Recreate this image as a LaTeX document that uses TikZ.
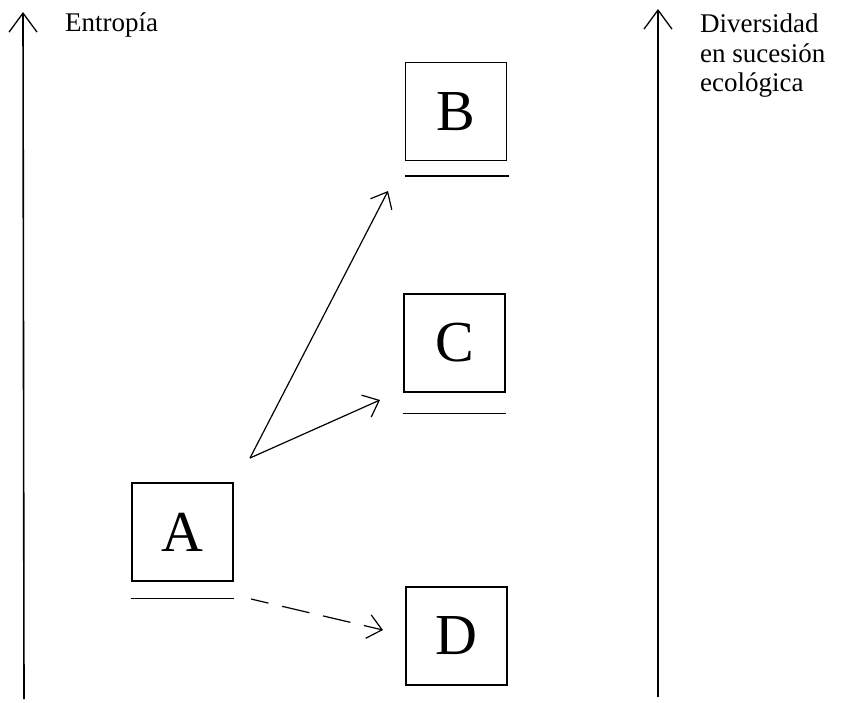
\documentclass[tikz,border=0pt]{standalone}
\usepackage{fontspec}
\setmainfont{Liberation Serif}
\usetikzlibrary{arrows.meta}
\begin{document}
\begin{tikzpicture}[x=1pt,y=-1pt,
  box/.style={draw, line width=1.3pt, minimum width=101pt, minimum height=98pt, inner sep=0pt, font=\fontsize{58}{62}\selectfont},
  lbl/.style={anchor=base west, inner sep=0pt, font=\fontsize{27}{30}\selectfont},
  axis/.style={line width=1.6pt, -{Straight Barb[length=19pt,width=28pt,line width=1.3pt]}},
  conn/.style={line width=1.2pt, -{Straight Barb[length=14pt,width=24pt,line width=1.2pt]}},
  uline/.style={line width=1.4pt}]
\useasboundingbox (0,0) rectangle (843,702);

% axes
\coordinate (L0) at (24,699);
\coordinate (L1) at (23,12);
\coordinate (R0) at (658,697);
\coordinate (R1) at (658,9);
\draw[axis] (L0) -- (L1);
\draw[axis] (R0) -- (R1);

% axis labels
\node[lbl] (ent) at (65,31) {Entropía};
\node[lbl] (div1) at (700,32) {Diversidad};
\node[lbl] (div2) at (700,62) {en sucesión};
\node[lbl] (div3) at (700,91) {ecológica};

% boxes
\node[box] (B) at (456,111.5) {B};
\node[box] (C) at (454.5,343) {C};
\node[box] (A) at (182.5,532) {A};
\node[box] (D) at (456.5,636) {D};

% underlines
\draw[uline] ([yshift=-15pt]B.south west) -- ([yshift=-15pt,xshift=2pt]B.south east);
\draw[uline] ([yshift=-21pt]C.south west) -- ([yshift=-21pt]C.south east);
\draw[uline] ([yshift=-17pt]A.south west) -- ([yshift=-17pt]A.south east);

% connectors
\coordinate (s) at (250,458);
\coordinate (tB) at (388,191);
\coordinate (tC) at (380,400);
\coordinate (d0) at (251,599);
\coordinate (tD) at (383,630);
\draw[conn] (s) -- (tB);
\draw[conn] (s) -- (tC);
\draw[conn, dash pattern=on 28pt off 14pt, dash phase=10pt] (d0) -- (tD);
\end{tikzpicture}
\end{document}
